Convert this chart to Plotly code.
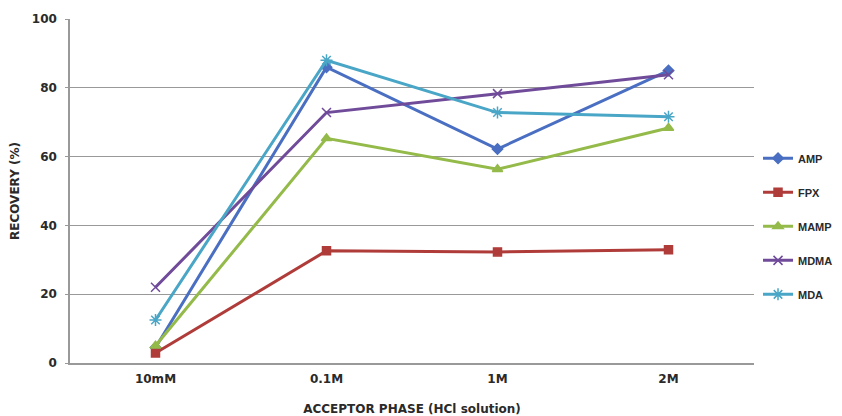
import plotly.graph_objects as go

categories = ["10mM", "0.1M", "1M", "2M"]
amp = [4.5, 86.0, 62.2, 85.0]
fpx = [2.9, 32.6, 32.3, 32.9]
mamp = [5.0, 65.3, 56.3, 68.3]
mdma = [22.0, 72.8, 78.3, 83.8]
mda = [12.5, 88.0, 72.8, 71.6]

series = [
    ("AMP", amp, "#4A6FC2", "diamond", 8),
    ("FPX", fpx, "#B03C3A", "square", 8),
    ("MAMP", mamp, "#94BA4A", "triangle-up", 9),
    ("MDMA", mdma, "#6F4B9A", "x-thin-open", 9),
    ("MDA", mda, "#4AA6C6", "asterisk-open", 10),
]

fig = go.Figure()
for i, (name, vals, col, sym, sz) in enumerate(series):
    fig.add_trace(go.Scatter(
        x=categories, y=vals, name=name, mode="lines+markers",
        line=dict(color=col, width=3),
        marker=dict(symbol=sym, size=sz, color=col, line=dict(color=col, width=1.5)),
        legendgroup=name,
    ))

fig.update_layout(
    width=834, height=408,
    margin=dict(l=62, r=88, t=11, b=53),
    paper_bgcolor="white", plot_bgcolor="white",
    font=dict(family="DejaVu Sans", size=12, color="#2a2a2a", weight="bold"),
    showlegend=True,
    legend=dict(xref="container", yref="container", x=0.8993, y=0.667,
                xanchor="left", yanchor="top",
                tracegroupgap=15,
                font=dict(family="Liberation Sans", size=11, color="#2a2a2a", weight="bold"),
                bgcolor="rgba(0,0,0,0)", itemwidth=30),
    xaxis=dict(
        type="category", range=[-0.5, 3.5], showgrid=False,
        showline=True, linecolor="#999", linewidth=1.5,
        ticks="outside", ticklen=4, tickcolor="rgba(0,0,0,0)",
        tickfont=dict(size=12, weight="bold"), automargin=False,
        title=dict(text="ACCEPTOR PHASE (HCl solution)", font=dict(size=12, weight="bold"), standoff=21),
    ),
    yaxis=dict(
        range=[0, 100], dtick=20, showgrid=True, gridcolor="#999", gridwidth=1.2,
        showline=True, linecolor="#999", linewidth=1.5,
        ticks="outside", ticklen=3, tickcolor="#999", automargin=False,
        ticklabelstandoff=6,
        tickfont=dict(size=12, weight="bold"), zeroline=False,
        title=dict(text="RECOVERY (%)", font=dict(size=12, weight="bold"), standoff=14),
    ),
)

fig.write_html("out.html")
